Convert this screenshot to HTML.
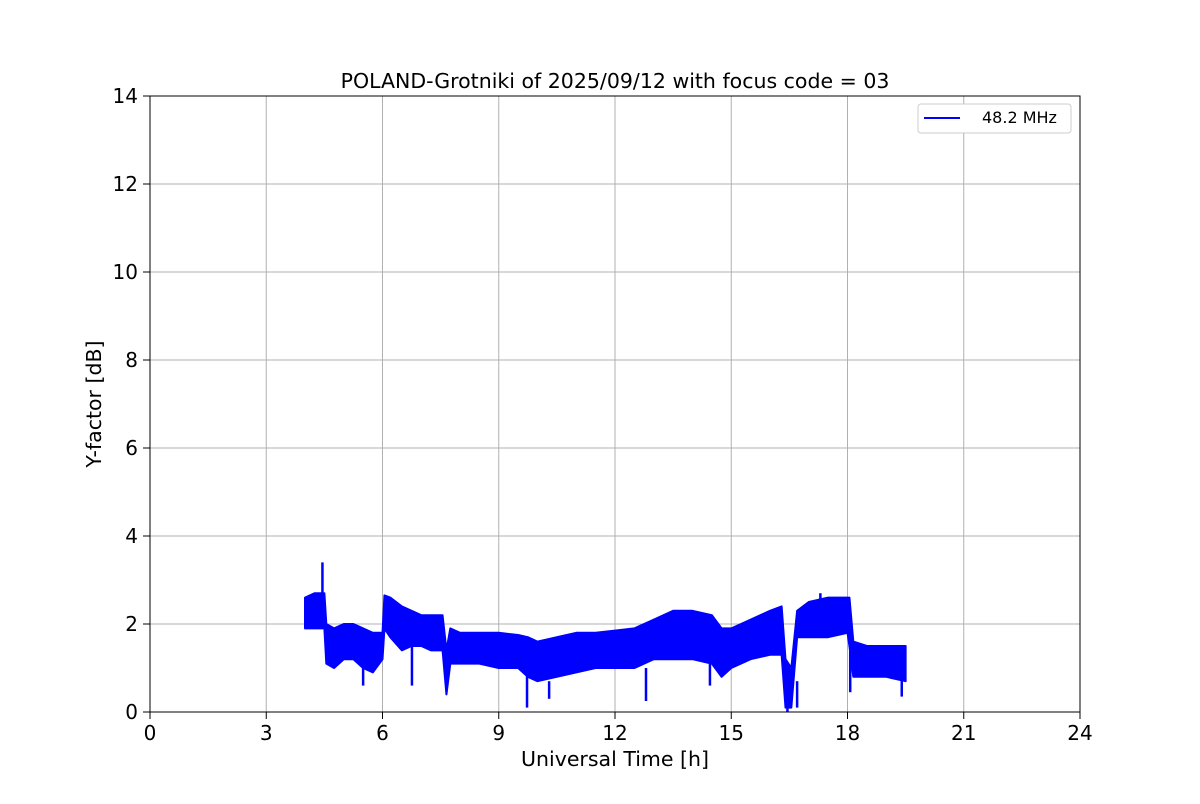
<!DOCTYPE html>
<html><head><meta charset="utf-8"><style>
body{margin:0;background:#fff;font-family:"DejaVu Sans","Liberation Sans",sans-serif}
</style></head><body>
<svg id="chart" width="1200" height="800" xmlns="http://www.w3.org/2000/svg" font-family="DejaVu Sans, Liberation Sans, sans-serif">
<rect width="1200" height="800" fill="#fff"/>
<g id="grid"></g>
<g id="series"></g>
<rect x="150" y="96" width="930" height="616" fill="none" stroke="#000" stroke-width="1"/>
<g id="ticks"></g>
<text x="615" y="88" text-anchor="middle" font-size="20.5">POLAND-Grotniki of 2025/09/12 with focus code = 03</text>
<text x="615" y="766" text-anchor="middle" font-size="20.5">Universal Time [h]</text>
<text x="101" y="404" text-anchor="middle" font-size="20.5" transform="rotate(-90 101 404)">Y-factor [dB]</text>
<g>
<rect x="918" y="104" width="153" height="29" rx="3" fill="#fff" stroke="#ccc"/>
<line x1="924" y1="118" x2="960" y2="118" stroke="#0000ff" stroke-width="2"/>
<text x="982" y="123" font-size="16">48.2 MHz</text>
</g>
</svg>
<script>
const xTicks=[0,3,6,9,12,15,18,21,24];
const yTicks=[0,2,4,6,8,10,12,14];
const times=[4.0,4.25,4.5,4.55,4.75,5.0,5.25,5.5,5.75,6.0,6.05,6.2,6.5,6.75,7.0,7.25,7.55,7.65,7.75,8.0,8.5,9.0,9.5,9.75,10,10.5,11,11.5,12,12.5,13,13.5,14,14.5,14.75,15,15.5,16,16.3,16.4,16.55,16.7,17,17.5,18,18.05,18.15,18.5,19,19.5];
const upper=[2.6,2.7,2.7,2.0,1.9,2.0,2.0,1.9,1.8,1.8,2.65,2.6,2.4,2.3,2.2,2.2,2.2,1.4,1.9,1.8,1.8,1.8,1.75,1.7,1.6,1.7,1.8,1.8,1.85,1.9,2.1,2.3,2.3,2.2,1.9,1.9,2.1,2.3,2.4,1.2,1.0,2.3,2.5,2.6,2.6,2.6,1.6,1.5,1.5,1.5];
const lower=[1.9,1.9,1.9,1.1,1.0,1.2,1.2,1.0,0.9,1.2,1.9,1.7,1.4,1.5,1.5,1.4,1.4,0.4,1.1,1.1,1.1,1.0,1.0,0.8,0.7,0.8,0.9,1.0,1.0,1.0,1.2,1.2,1.2,1.1,0.8,1.0,1.2,1.3,1.3,0.1,0.1,1.7,1.7,1.7,1.8,1.5,0.8,0.8,0.8,0.7];
const spikeTimes=[4.45,5.5,6.76,9.73,10.3,12.8,14.45,16.45,16.7,17.3,18.07,19.4];
const spikeValues=[3.4,0.6,0.6,0.1,0.3,0.25,0.6,0.0,0.7,2.7,0.45,0.35];
const X=t=>150+t*930/24, Y=v=>712-v*616/14;
const NS="http://www.w3.org/2000/svg";
function mk(tag,attrs,parent){const e=document.createElementNS(NS,tag);for(const k in attrs)e.setAttribute(k,attrs[k]);parent.appendChild(e);return e;}
const grid=document.getElementById('grid'),ticks=document.getElementById('ticks'),ser=document.getElementById('series');
xTicks.forEach(t=>{
 const g=mk('line',{x1:X(t),x2:X(t),y1:96,y2:712,stroke:'#b0b0b0','stroke-width':1},grid);
 
 
 const k=mk('line',{x1:X(t),x2:X(t),y1:712,y2:719,stroke:'#000'},ticks);
 
 
 const l=mk('text',{x:X(t),y:740,'text-anchor':'middle','font-size':20},ticks);l.textContent=t;
 
 
});
yTicks.forEach(v=>{
 const g=mk('line',{x1:150,x2:1080,y1:Y(v),y2:Y(v),stroke:'#b0b0b0','stroke-width':1},grid);
 
 
 const k=mk('line',{x1:143,x2:150,y1:Y(v),y2:Y(v),stroke:'#000'},ticks);
 
 
 const l=mk('text',{x:138,y:Y(v)+7,'text-anchor':'end','font-size':20},ticks);l.textContent=v;
 
 
});
const n=Math.min(times.length,upper.length,lower.length);
let pts=[];
for(let i=0;i<n;i++)pts.push(X(times[i])+','+Y(upper[i]));
for(let i=n-1;i>=0;i--)pts.push(X(times[i])+','+Y(lower[i]));
const band=mk('polygon',{points:pts.join(' '),fill:'#0000ff',stroke:'#0000ff','stroke-width':2,'stroke-linejoin':'round'},ser);


spikeTimes.forEach((t,i)=>{
 let j=0;while(j<n-1&&times[j+1]<t)j++;
 const base=spikeValues[i]>upper[j]?upper[j]:lower[j];
 const s=mk('line',{x1:X(t),x2:X(t),y1:Y(base),y2:Y(spikeValues[i]),stroke:'#0000ff','stroke-width':2.5},ser);
 
 
});
</script>
</body></html>
